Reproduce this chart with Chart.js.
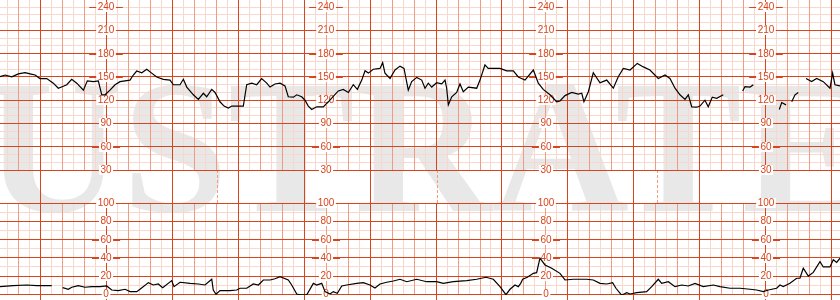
<!DOCTYPE html>
<html>
<head>
<meta charset="utf-8">
<title>CTG strip</title>
<script src="https://cdn.jsdelivr.net/npm/chart.js@4.4.0/dist/chart.umd.min.js"></script>
<style>
  html, body { margin: 0; padding: 0; background: #fff; }
  #strip { position: relative; width: 840px; height: 300px; overflow: hidden; }
  #strip canvas { position: absolute; left: 0; }
</style>
</head>
<body>
<div id="strip">
  <canvas id="bandChart" width="840" height="300" style="top:0"></canvas>
  <canvas id="fhrChart" width="840" height="180" style="top:0"></canvas>
  <canvas id="uaChart" width="840" height="104" style="top:196px"></canvas>
</div>
<script>
// --- DATA (time in seconds, 0 = first full minute line) ---

// Fetal heart rate, bpm (null = signal loss)
const fhrSec = [-36.4,-31.8,-25.7,-19.7,-13.6,-9.1,-4.5,0,6.1,12.1,
  16.6,21.2,24.3,28.8,33.4,39.4,43,48.5,53,56.1,
  59.1,63.6,68.2,72.7,81.8,84.8,87.9,92.5,97,101.5,
  106.1,112.1,118.2,121.2,127.3,130.3,133.4,139.4,143.9,148.5,
  151.5,156.1,159.1,163.6,167.3,171.2,174.3,184.8,187.9,192.5,
  197,201.5,206.1,209.1,213.6,218.2,222.7,225.7,230.3,233.4,
  237.9,240.9,243.9,247,251.5,257.5,262.1,266.6,271.2,275.7,
  280.3,284.8,288.5,292.5,295.5,298.5,303,309.1,311.5,313.6,
  318.2,322.7,327.3,330.9,334.8,337.9,342.5,347,350,353,
  356.1,360.6,365.2,368.2,369.7,371.2,374.3,378.8,381.8,384.8,
  389.4,397,400,404.5,407.5,418.2,424.3,430.3,434.8,440.9,
  448.5,453,457.5,463.6,469.7,472.7,477.3,483.4,489.4,492.5,
  494.5,498.5,503,509.1,515.2,521.2,525.7,530.3,536.4,543,
  548.5,554.5,562.1,568.2,572.7,577.3,581.8,586.4,589.4,592.5,
  597,600,604.5,607.5,611.2,615.2,621.2,630,638.8,640.9,
  645.5,648.5,660,672.1,674.3,678.2,681,683.4,686.4,689.4,
  693,696.4,701.5,706.1,712.1,718.2,720.6,722.7,727.3];
const fhrBpm = [150.4,152.5,150.3,154,155.5,154,152.5,148,148,142,
  135.5,138,140,147,142,133,145,144,145,127,
  127,133,140,144,146,152.5,157.7,155.5,160,155,
  150,147,146,140,140,147,137,127,121,129,
  124.5,134,130,118,112.5,110,112.5,112.5,140,142,
  140,148,142,137,141,142,138.5,124.5,124,127,
  124.5,120,112.5,108,111.5,111.5,118,125,132,134,
  130,140,134,146,158,155,160,161,168.5,155,
  148,159,164,161,133,144,149.5,146,135.5,142,
  137,142.6,141,146,135.5,114,124.5,130,141,131,
  137,135.5,146,165.5,161,161,158,158,150,146,
  159,142,134,127,118,119,126,130,128,129,
  118,131,155.5,142.6,146,135.5,150.4,161,159,167.5,
  163,159,148,152.5,148,135.5,127,121,127,111.5,
  111,112.5,120,111.5,124,122.5,127,null,132,137.5,
  137,140,null,108,117,114,null,118,127,130,
  null,148,144,148,144,135.5,155,140,138.5];

// Uterine activity (toco), 0-100
const uaSec = [-36.4,-24.3,-12.1,-3,10.6,14,20.6,25.7,28.8,34.8,
  40.9,47,54.5,60.6,65.2,71.2,77.3,81.8,87.9,90.9,
  98.5,103,107.5,111.5,119.7,121.8,127.3,136.4,143.9,150,
  156.1,157.5,160,163.6,172.7,178.8,181.8,187.9,193.9,198.5,
  203,209.1,213.6,218.2,225.7,228.8,233.4,236.4,242.5,248.5,
  251.5,256.1,259.1,263.6,266.6,270.3,274.3,278.8,287.9,293.9,
  300,304.5,309.1,315.2,321.2,327.3,333.4,342.5,351.5,360.6,
  366.6,375.7,387.9,397,405.5,412.1,418.2,423.6,427.3,431.8,
  434.8,437,438.8,443,448.5,451.5,454.5,459.1,465.2,472.7,
  477.3,484.8,497,503,509.1,515.2,520.6,523.6,528.8,533.4,
  536.4,542.5,551.5,556.1,562.1,565.2,571.2,577.3,583.4,589.4,
  595.5,603,612.1,618.2,627.3,636.4,645.5,651.5,657.5,662.1,
  669.7,672.7,675.7,681.8,687.9,690.9,693.9,698.5,703,709.1,
  712.1,718.2,721.2,724.3,727.3];
const uaVal = [8.4,9.5,10.2,9.5,9.5,null,7.3,5.5,7.7,9.5,
  7.7,8.4,8.4,9.1,4.7,4,5.5,2.9,2.9,5.5,
  12.8,10.2,11.3,7.3,15,8.4,13.2,12,11.3,10.2,
  16.5,4.7,0,4,4,4.7,6.6,6.6,11.3,10.2,
  15.7,15.7,17.1,19.3,15.7,10.2,0.3,-0.5,-0.5,12,
  10.2,12,2.9,0.3,2.9,1.1,9.1,10.2,12,12.8,
  10.2,6.9,11.3,13.2,14.6,16.5,13.8,16.5,13.8,13.8,
  12,13.8,15,16.5,18.7,16.5,8.4,-0.5,5.5,10.2,
  8.4,12,16.5,18.7,23,23.7,39.6,32.2,28.6,23,
  15.7,16.5,16.5,15.7,12,11.3,12.8,6.6,-1,1.8,
  0.3,1.8,2.9,8.4,16.5,12,13.8,8.4,10.2,9.1,
  12,8.4,10.2,8.4,6.6,6.6,5.5,4.7,2.9,4.7,
  6.6,10.2,8.4,12,17.6,17.6,28.6,20,24,35.8,
  30,30,38,35,39.6];

// Scale labels printed on the paper, and where they repeat
const FHR_LABELS = [240, 210, 180, 150, 120, 90, 60, 30];
const UA_LABELS = [100, 80, 60, 40, 20, 0];
const LABEL_COLS = [60, 260, 460, 660];
const EVENT_MARKS = [161, 361, 561];
const WATERMARK = 'USTRATED';

// --- PAPER STYLE ---
const T_MIN = -36.4, T_MAX = 727.3;
const MAJOR = '#d8441c', MEDIUM = '#ef9c82', LIGHT = '#f8d8cc';

function range(from, to, step, keep) {
    const out = [];
    for (let v = from; v <= to; v += step) if (!keep || keep(v)) out.push(v);
    return out;
}

// vertical lines: 10 s light, 20 s medium, 1 min dark
const T_LIGHT = range(-30, 720, 10, t => t % 20 !== 0);
const T_MEDIUM = range(-20, 720, 20, t => t % 60 !== 0);
const T_MAJOR = range(0, 720, 60);
const T_BAND = T_MAJOR.filter(t => !LABEL_COLS.includes(t) && !EVENT_MARKS.some(e => Math.abs(e - t) < 5));

// one axis = one family of grid lines, so dark lines end up on top
function gridAxis(axis, values, color, z, extra) {
    return Object.assign({
        type: 'linear',
        axis: axis,
        position: axis === 'x' ? 'bottom' : 'left',
        afterBuildTicks: s => { s.ticks = values.map(v => ({ value: v })); },
        ticks: { display: false },
        grid: { color: color, z: z, lineWidth: 1, drawTicks: false },
        border: { display: false }
    }, extra || {});
}

function timeAxes(withTicks) {
    const xr = { min: T_MIN, max: T_MAX };
    const major = gridAxis('x', T_MAJOR, MAJOR, -1, xr);
    if (withTicks) {
        major.grid = Object.assign({}, major.grid, { drawTicks: true, tickLength: 5, tickColor: MAJOR });
    }
    return {
        xLight: gridAxis('x', T_LIGHT, LIGHT, -3, xr),
        xMedium: gridAxis('x', T_MEDIUM, MEDIUM, -2, xr),
        x: major
    };
}

// number columns: short dark dashes, white box, number; drawn before the trace
const scaleLabels = {
    id: 'scaleLabels',
    beforeDatasetsDraw(chart, args, opts) {
        const { ctx } = chart;
        const xs = chart.scales.x, ys = chart.scales.y;
        ctx.save();
        ctx.font = '10px "Liberation Sans", Arial, sans-serif';
        ctx.textAlign = 'center';
        ctx.textBaseline = 'middle';
        LABEL_COLS.forEach(col => {
            const px = xs.getPixelForValue(col);
            opts.values.forEach(v => {
                const py = Math.round(ys.getPixelForValue(v));
                const txt = String(v);
                const w = ctx.measureText(txt).width + 3;
                ctx.fillStyle = MAJOR;
                ctx.fillRect(px - w / 2 - 7, py, w + 14, 1);
                ctx.fillStyle = '#fff';
                ctx.fillRect(px - w / 2, py - 5, w, 10);
                ctx.fillStyle = MAJOR;
                ctx.fillText(txt, px, py + 0.5);
            });
        });
        ctx.restore();
    }
};

// big grey lettering behind the paper
const watermark = {
    id: 'watermark',
    beforeDraw(chart) {
        const ctx = chart.ctx;
        ctx.save();
        ctx.font = 'bold 190px "Liberation Serif", "Times New Roman", serif';
        ctx.fillStyle = '#e8e8e8';
        ctx.textBaseline = 'alphabetic';
        ctx.fillText(WATERMARK, -15, 211);
        ctx.restore();
    }
};

const baseOptions = {
    responsive: false,
    animation: false,
    devicePixelRatio: 1,
    events: [],
    plugins: { legend: { display: false }, tooltip: { enabled: false } }
};

function trace(xs, ys) {
    return {
        data: xs.map((t, i) => ({ x: t, y: ys[i] })),
        borderColor: '#000',
        borderWidth: 1.2,
        pointRadius: 0,
        spanGaps: false,
        tension: 0,
        xAxisID: 'x',
        yAxisID: 'y'
    };
}

// 1. white band between the two panels, with the watermark under everything
new Chart(document.getElementById('bandChart'), {
    type: 'line',
    data: { datasets: [] },
    options: Object.assign({}, baseOptions, {
        layout: { padding: { top: 170, bottom: 97, left: 0, right: 0 } },
        scales: {
            xDash: Object.assign(gridAxis('x', EVENT_MARKS, MEDIUM, -2, { min: T_MIN, max: T_MAX }),
                { border: { display: false, dash: [3, 2] } }),
            x: gridAxis('x', T_BAND, MAJOR, -1, { min: T_MIN, max: T_MAX }),
            y: { display: false, min: 0, max: 1 }
        }
    }),
    plugins: [watermark]
});

// 2. fetal heart rate panel (top line at 240 is a light one)
new Chart(document.getElementById('fhrChart'), {
    type: 'line',
    data: { datasets: [trace(fhrSec, fhrBpm)] },
    options: Object.assign({}, baseOptions, {
        layout: { padding: { top: 0, bottom: 10, left: 0, right: 0 } },
        plugins: Object.assign({}, baseOptions.plugins, { scaleLabels: { values: FHR_LABELS } }),
        scales: Object.assign(timeAxes(false), {
            yLight: gridAxis('y', range(30, 240, 10, v => (v - 30) % 30 !== 0 || v === 240), LIGHT, -3, { min: 30, max: 249.3 }),
            y: gridAxis('y', range(30, 210, 30), MAJOR, -1, { min: 30, max: 249.3 })
        })
    }),
    plugins: [scaleLabels]
});

// 3. uterine activity panel
new Chart(document.getElementById('uaChart'), {
    type: 'line',
    data: { datasets: [trace(uaSec, uaVal)] },
    options: Object.assign({}, baseOptions, {
        layout: { padding: { top: 7, bottom: 0, left: 0, right: 0 } },
        plugins: Object.assign({}, baseOptions.plugins, { scaleLabels: { values: UA_LABELS } }),
        scales: Object.assign(timeAxes(true), {
            yLight: gridAxis('y', range(10, 90, 20), LIGHT, -3, { min: -0.8, max: 100.3 }),
            y: gridAxis('y', range(0, 100, 20), MAJOR, -1, { min: -0.8, max: 100.3 })
        })
    }),
    plugins: [scaleLabels]
});
</script>
</body>
</html>
